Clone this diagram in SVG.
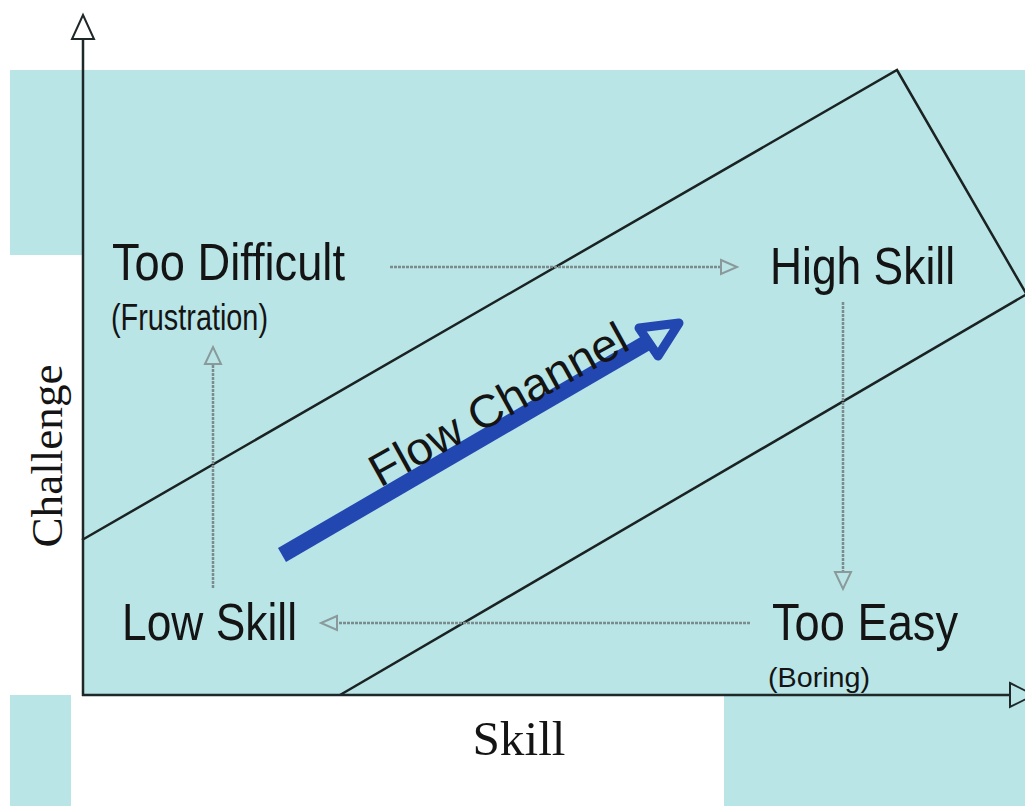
<svg xmlns="http://www.w3.org/2000/svg" width="1025" height="806" viewBox="0 0 1025 806">
<style>
.bg{fill:#b9e5e7}
.lbl{font-family:"Liberation Sans",Arial,sans-serif;fill:#141414}
.ser{font-family:"Liberation Serif","Times New Roman",serif;fill:#141414}
.axis{stroke:#1e2828;stroke-width:2.5;fill:none}
.chan{stroke:#1a2222;stroke-width:2.5;fill:none}
.dash{stroke:#7c8c8c;stroke-width:2.5;stroke-dasharray:3 1;fill:none}
.dhead{stroke:#8a9999;stroke-width:2;fill:none;stroke-linejoin:miter}
</style>
<rect width="1025" height="806" fill="#ffffff"/>
<g id="background">
<rect class="bg" x="10" y="70" width="72" height="185"/>
<rect class="bg" x="82" y="70" width="943" height="625"/>
<rect class="bg" x="10" y="695" width="61" height="111"/>
<rect class="bg" x="724" y="695" width="301" height="111"/>
</g>
<g id="channel">
<polyline class="chan" points="82,540 897,70 1027,295"/>
<line class="chan" x1="340" y1="695" x2="1027" y2="294"/>
</g>
<g id="axes">
<line class="axis" x1="83" y1="39" x2="83" y2="696"/>
<polygon points="83,15 72,39 94,39" fill="#ffffff" stroke="#1e2828" stroke-width="2"/>
<line class="axis" x1="82" y1="695" x2="1010" y2="695"/>
<polygon points="1010,683 1034,695 1010,707" fill="none" stroke="#1e2828" stroke-width="2"/>
</g>
<g id="connectors">
<line class="dash" x1="390" y1="267" x2="721" y2="267"/>
<polygon class="dhead" points="721,260 737,267 721,274"/>
<line class="dash" x1="843" y1="302" x2="843" y2="572"/>
<polygon class="dhead" points="835,572 843,589 851,572"/>
<line class="dash" x1="750" y1="623" x2="337" y2="623"/>
<polygon class="dhead" points="337,616 321,623 337,630"/>
<line class="dash" x1="213" y1="588" x2="213" y2="364"/>
<polygon class="dhead" points="205,364 213,347 221,364"/>
</g>
<g id="flow-arrow">
<line x1="282" y1="555" x2="648" y2="342" stroke="#2347b1" stroke-width="16"/>
<polygon points="639,328 679,323 658,356" fill="none" stroke="#2347b1" stroke-width="9" stroke-linejoin="round"/>
</g>
<g id="too-difficult">
<text class="lbl" x="112" y="280" font-size="52" textLength="233" lengthAdjust="spacingAndGlyphs">Too Difficult</text>
<text class="lbl" x="111" y="330" font-size="36" textLength="157" lengthAdjust="spacingAndGlyphs">(Frustration)</text>
</g>
<g id="high-skill">
<text class="lbl" x="770" y="284" font-size="52" textLength="185" lengthAdjust="spacingAndGlyphs">High Skill</text>
</g>
<g id="low-skill">
<text class="lbl" x="122" y="640" font-size="52" textLength="175" lengthAdjust="spacingAndGlyphs">Low Skill</text>
</g>
<g id="too-easy">
<text class="lbl" x="772" y="640" font-size="52" textLength="186" lengthAdjust="spacingAndGlyphs">Too Easy</text>
<text class="lbl" x="768" y="687" font-size="28" textLength="102" lengthAdjust="spacingAndGlyphs">(Boring)</text>
</g>
<g id="flow-channel">
<text class="lbl" x="0" y="0" font-size="46" textLength="288" lengthAdjust="spacingAndGlyphs" transform="translate(380,488) rotate(-29)">Flow Channel</text>
</g>
<g id="challenge-label">
<text class="ser" x="0" y="0" font-size="45" text-anchor="middle" textLength="183" lengthAdjust="spacingAndGlyphs" transform="translate(62,456) rotate(-90)">Challenge</text>
</g>
<g id="skill-label">
<text class="ser" x="519" y="755" font-size="48" text-anchor="middle" textLength="93" lengthAdjust="spacingAndGlyphs">Skill</text>
</g>
</svg>
